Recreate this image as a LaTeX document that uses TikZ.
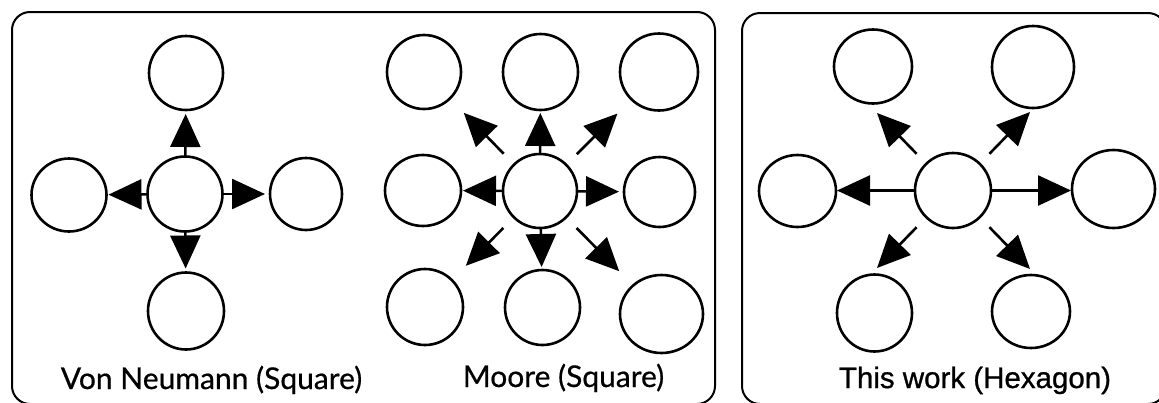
\documentclass[tikz,border=0pt]{standalone}
\usepackage{fontspec}
\setmainfont[FakeBold=0.6]{Lato}
\newfontfamily\arialfont[FakeBold=0.9]{Liberation Sans}
\usetikzlibrary{arrows.meta,shapes.geometric}
\begin{document}
\begin{tikzpicture}[x=1pt,y=-1pt,
  cell/.style={ellipse,draw,line width=2.6pt,inner sep=0pt,outer sep=0pt},
  arr/.style={line width=2.6pt,-{Triangle[length=33pt,width=30pt]}},
  panel/.style={draw,line width=2pt,rounded corners=18pt},
  lbl/.style={anchor=base,inner sep=0pt,font=\fontsize{30}{33}\selectfont},
  hlbl/.style={anchor=base,inner sep=0pt,font=\arialfont\fontsize{29.5}{32}\selectfont}]
\useasboundingbox (0,0) rectangle (1159,402);
% panels
\draw[panel] (12,12) rectangle (715,404);
\draw[panel] (742,13) rectangle (1166,404);
% Von Neumann
\node[cell,minimum width=75pt,minimum height=75pt] (vc) at (185,194) {};
\node[cell,minimum width=74pt,minimum height=74pt] (vt) at (186,73) {};
\node[cell,minimum width=75pt,minimum height=73pt] (vl) at (69,195) {};
\node[cell,minimum width=72pt,minimum height=72pt] (vr) at (306,194) {};
\node[cell,minimum width=76pt,minimum height=77pt] (vb) at (186,311) {};
\draw[arr,shorten >=4pt] (vc) -- (vt);
\draw[arr,shorten >=2pt] (vc) -- (vl);
\draw[arr,shorten >=5pt] (vc) -- (vr);
\draw[arr,shorten >=4pt] (vc) -- (vb);
\node[lbl] (tvn) at (211.5,389) {Von Neumann (Square)};
% Moore
\node[cell,minimum width=74pt,minimum height=74pt] (mc) at (540,191) {};
\node[cell,minimum width=74pt,minimum height=74pt] (mtl) at (424,72) {};
\node[cell,minimum width=75pt,minimum height=76pt] (mt) at (540.5,72) {};
\node[cell,minimum width=78pt,minimum height=77pt] (mtr) at (659,72) {};
\node[cell,minimum width=76pt,minimum height=71pt] (ml) at (423,190.5) {};
\node[cell,minimum width=71pt,minimum height=70pt] (mr) at (659.5,192) {};
\node[cell,minimum width=76pt,minimum height=76pt] (mbl) at (425,307) {};
\node[cell,minimum width=75pt,minimum height=75pt] (mb) at (542.5,307.5) {};
\node[cell,minimum width=83pt,minimum height=78pt] (mbr) at (661.5,314) {};
\draw[arr,shorten >=3pt] (mc) -- (mt);
\draw[arr,shorten >=2pt] (mc) -- (ml);
\draw[arr,shorten >=5pt] (mc) -- (mr);
\draw[arr,shorten >=3pt] (mc) -- (mb);
\draw[arr,shorten <=15pt,shorten >=20pt] (mc) -- (mtl);
\draw[arr,shorten <=15pt,shorten >=20pt] (mc) -- (mtr);
\draw[arr,shorten <=15pt,shorten >=20pt] (mc) -- (mbl);
\draw[arr,shorten <=15pt,shorten >=20pt] (mc) -- (mbr);
\node[lbl] (tmo) at (563.5,387) {Moore (Square)};
% Hexagon
\node[cell,minimum width=76pt,minimum height=75pt] (hc) at (953,190.5) {};
\node[cell,minimum width=78pt,minimum height=74pt] (htl) at (873,66.5) {};
\node[cell,minimum width=82pt,minimum height=82pt] (htr) at (1033,67) {};
\node[cell,minimum width=77pt,minimum height=72pt] (hl) at (797.5,191) {};
\node[cell,minimum width=83pt,minimum height=78pt] (hr) at (1113.5,189) {};
\node[cell,minimum width=75pt,minimum height=77pt] (hbl) at (874.5,313) {};
\node[cell,minimum width=78pt,minimum height=73pt] (hbr) at (1031,311.5) {};
\coordinate (ptl) at (877,113);
\coordinate (ptr) at (1030,112);
\coordinate (pbl) at (877,268);
\coordinate (pbr) at (1030,269);
\draw[arr,shorten >=1pt] (hc.west) -- (hc.west -| hl.east);
\draw[arr,shorten >=1pt] (hc.east) -- (hc.east -| hr.west);
\draw[arr,shorten <=14pt] (hc.135) -- (ptl);
\draw[arr,shorten <=14pt] (hc.45) -- (ptr);
\draw[arr,shorten <=14pt] (hc.-135) -- (pbl);
\draw[arr,shorten <=14pt] (hc.-45) -- (pbr);
\node[hlbl] (thx) at (975,388) {This work (Hexagon)};
\end{tikzpicture}
\end{document}
